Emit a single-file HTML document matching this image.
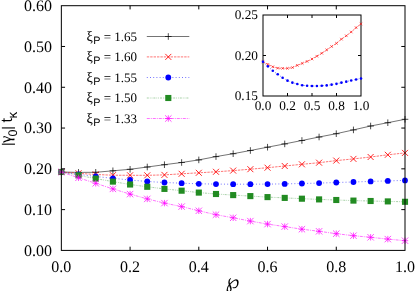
<!DOCTYPE html>
<html><head><meta charset="utf-8"><title>plot</title>
<style>html,body{margin:0;padding:0;background:#fff}svg{display:block}</style></head>
<body><svg width="415" height="291" viewBox="0 0 415 291" text-rendering="geometricPrecision">
<rect width="415" height="291" fill="#fff"/>
<path d="M61.35 172 L78.53 172.4 L95.72 172.3 L112.9 170.8 L130.08 169.3 L147.26 167 L164.45 164.7 L181.63 162.5 L198.81 159.9 L215.99 156.6 L233.17 153.7 L250.36 150.5 L267.54 147.2 L284.72 143.9 L301.91 140.5 L319.09 137 L336.27 133.7 L353.45 129.9 L370.63 126 L387.82 122.7 L405 119.3" fill="none" stroke="#000000" stroke-width="0.55"/>
<path d="M58.05 172H64.65M61.35 168.7V175.3" stroke="#000000" stroke-width="0.7" fill="none"/>
<path d="M75.23 172.4H81.83M78.53 169.1V175.7" stroke="#000000" stroke-width="0.7" fill="none"/>
<path d="M92.42 172.3H99.02M95.72 169V175.6" stroke="#000000" stroke-width="0.7" fill="none"/>
<path d="M109.6 170.8H116.2M112.9 167.5V174.1" stroke="#000000" stroke-width="0.7" fill="none"/>
<path d="M126.78 169.3H133.38M130.08 166V172.6" stroke="#000000" stroke-width="0.7" fill="none"/>
<path d="M143.96 167H150.56M147.26 163.7V170.3" stroke="#000000" stroke-width="0.7" fill="none"/>
<path d="M161.15 164.7H167.75M164.45 161.4V168" stroke="#000000" stroke-width="0.7" fill="none"/>
<path d="M178.33 162.5H184.93M181.63 159.2V165.8" stroke="#000000" stroke-width="0.7" fill="none"/>
<path d="M195.51 159.9H202.11M198.81 156.6V163.2" stroke="#000000" stroke-width="0.7" fill="none"/>
<path d="M212.69 156.6H219.29M215.99 153.3V159.9" stroke="#000000" stroke-width="0.7" fill="none"/>
<path d="M229.87 153.7H236.47M233.17 150.4V157" stroke="#000000" stroke-width="0.7" fill="none"/>
<path d="M247.06 150.5H253.66M250.36 147.2V153.8" stroke="#000000" stroke-width="0.7" fill="none"/>
<path d="M264.24 147.2H270.84M267.54 143.9V150.5" stroke="#000000" stroke-width="0.7" fill="none"/>
<path d="M281.42 143.9H288.02M284.72 140.6V147.2" stroke="#000000" stroke-width="0.7" fill="none"/>
<path d="M298.61 140.5H305.21M301.91 137.2V143.8" stroke="#000000" stroke-width="0.7" fill="none"/>
<path d="M315.79 137H322.39M319.09 133.7V140.3" stroke="#000000" stroke-width="0.7" fill="none"/>
<path d="M332.97 133.7H339.57M336.27 130.4V137" stroke="#000000" stroke-width="0.7" fill="none"/>
<path d="M350.15 129.9H356.75M353.45 126.6V133.2" stroke="#000000" stroke-width="0.7" fill="none"/>
<path d="M367.33 126H373.94M370.63 122.7V129.3" stroke="#000000" stroke-width="0.7" fill="none"/>
<path d="M384.52 122.7H391.12M387.82 119.4V126" stroke="#000000" stroke-width="0.7" fill="none"/>
<path d="M401.7 119.3H408.3M405 116V122.6" stroke="#000000" stroke-width="0.7" fill="none"/>
<path d="M61.35 172 L78.53 173.3 L95.72 174.5 L112.9 175.2 L130.08 175.3 L147.26 175.3 L164.45 174.9 L181.63 173.8 L198.81 172.8 L215.99 171.8 L233.17 170.6 L250.36 169.2 L267.54 167.7 L284.72 166 L301.91 164.3 L319.09 162.7 L336.27 160.6 L353.45 158.9 L370.63 157 L387.82 154.8 L405 152.9" fill="none" stroke="#ff0000" stroke-width="0.55" stroke-dasharray="2.4 1"/>
<path d="M58.35 169L64.35 175M58.35 175L64.35 169" stroke="#ff0000" stroke-width="0.85" fill="none"/>
<path d="M75.53 170.3L81.53 176.3M75.53 176.3L81.53 170.3" stroke="#ff0000" stroke-width="0.85" fill="none"/>
<path d="M92.72 171.5L98.72 177.5M92.72 177.5L98.72 171.5" stroke="#ff0000" stroke-width="0.85" fill="none"/>
<path d="M109.9 172.2L115.9 178.2M109.9 178.2L115.9 172.2" stroke="#ff0000" stroke-width="0.85" fill="none"/>
<path d="M127.08 172.3L133.08 178.3M127.08 178.3L133.08 172.3" stroke="#ff0000" stroke-width="0.85" fill="none"/>
<path d="M144.26 172.3L150.26 178.3M144.26 178.3L150.26 172.3" stroke="#ff0000" stroke-width="0.85" fill="none"/>
<path d="M161.45 171.9L167.45 177.9M161.45 177.9L167.45 171.9" stroke="#ff0000" stroke-width="0.85" fill="none"/>
<path d="M178.63 170.8L184.63 176.8M178.63 176.8L184.63 170.8" stroke="#ff0000" stroke-width="0.85" fill="none"/>
<path d="M195.81 169.8L201.81 175.8M195.81 175.8L201.81 169.8" stroke="#ff0000" stroke-width="0.85" fill="none"/>
<path d="M212.99 168.8L218.99 174.8M212.99 174.8L218.99 168.8" stroke="#ff0000" stroke-width="0.85" fill="none"/>
<path d="M230.17 167.6L236.17 173.6M230.17 173.6L236.17 167.6" stroke="#ff0000" stroke-width="0.85" fill="none"/>
<path d="M247.36 166.2L253.36 172.2M247.36 172.2L253.36 166.2" stroke="#ff0000" stroke-width="0.85" fill="none"/>
<path d="M264.54 164.7L270.54 170.7M264.54 170.7L270.54 164.7" stroke="#ff0000" stroke-width="0.85" fill="none"/>
<path d="M281.72 163L287.72 169M281.72 169L287.72 163" stroke="#ff0000" stroke-width="0.85" fill="none"/>
<path d="M298.91 161.3L304.91 167.3M298.91 167.3L304.91 161.3" stroke="#ff0000" stroke-width="0.85" fill="none"/>
<path d="M316.09 159.7L322.09 165.7M316.09 165.7L322.09 159.7" stroke="#ff0000" stroke-width="0.85" fill="none"/>
<path d="M333.27 157.6L339.27 163.6M333.27 163.6L339.27 157.6" stroke="#ff0000" stroke-width="0.85" fill="none"/>
<path d="M350.45 155.9L356.45 161.9M350.45 161.9L356.45 155.9" stroke="#ff0000" stroke-width="0.85" fill="none"/>
<path d="M367.63 154L373.63 160M367.63 160L373.63 154" stroke="#ff0000" stroke-width="0.85" fill="none"/>
<path d="M384.82 151.8L390.82 157.8M384.82 157.8L390.82 151.8" stroke="#ff0000" stroke-width="0.85" fill="none"/>
<path d="M402 149.9L408 155.9M402 155.9L408 149.9" stroke="#ff0000" stroke-width="0.85" fill="none"/>
<path d="M61.35 172 L78.53 174.3 L95.72 176.5 L112.9 178.3 L130.08 180 L147.26 181.5 L164.45 182.5 L181.63 183.2 L198.81 183.8 L215.99 184.1 L233.17 184.2 L250.36 184.2 L267.54 184.1 L284.72 183.9 L301.91 183.5 L319.09 183.1 L336.27 182.5 L353.45 182 L370.63 181.4 L387.82 180.9 L405 180.4" fill="none" stroke="#0000ff" stroke-width="0.55" stroke-dasharray="1 2.2"/>
<circle cx="61.35" cy="172" r="2.9" fill="#0000ff"/>
<circle cx="78.53" cy="174.3" r="2.9" fill="#0000ff"/>
<circle cx="95.72" cy="176.5" r="2.9" fill="#0000ff"/>
<circle cx="112.9" cy="178.3" r="2.9" fill="#0000ff"/>
<circle cx="130.08" cy="180" r="2.9" fill="#0000ff"/>
<circle cx="147.26" cy="181.5" r="2.9" fill="#0000ff"/>
<circle cx="164.45" cy="182.5" r="2.9" fill="#0000ff"/>
<circle cx="181.63" cy="183.2" r="2.9" fill="#0000ff"/>
<circle cx="198.81" cy="183.8" r="2.9" fill="#0000ff"/>
<circle cx="215.99" cy="184.1" r="2.9" fill="#0000ff"/>
<circle cx="233.17" cy="184.2" r="2.9" fill="#0000ff"/>
<circle cx="250.36" cy="184.2" r="2.9" fill="#0000ff"/>
<circle cx="267.54" cy="184.1" r="2.9" fill="#0000ff"/>
<circle cx="284.72" cy="183.9" r="2.9" fill="#0000ff"/>
<circle cx="301.91" cy="183.5" r="2.9" fill="#0000ff"/>
<circle cx="319.09" cy="183.1" r="2.9" fill="#0000ff"/>
<circle cx="336.27" cy="182.5" r="2.9" fill="#0000ff"/>
<circle cx="353.45" cy="182" r="2.9" fill="#0000ff"/>
<circle cx="370.63" cy="181.4" r="2.9" fill="#0000ff"/>
<circle cx="387.82" cy="180.9" r="2.9" fill="#0000ff"/>
<circle cx="405" cy="180.4" r="2.9" fill="#0000ff"/>
<path d="M61.35 172 L78.53 175.3 L95.72 178.6 L112.9 181.6 L130.08 184.5 L147.26 186.8 L164.45 188.9 L181.63 190.7 L198.81 192.6 L215.99 194 L233.17 195.1 L250.36 196.1 L267.54 197.1 L284.72 197.9 L301.91 198.7 L319.09 199.4 L336.27 200 L353.45 200.6 L370.63 201 L387.82 201.4 L405 201.8" fill="none" stroke="#228b22" stroke-width="0.4" stroke-dasharray="2 1 0.8 1 0.8 1"/>
<rect x="58.3" y="168.95" width="6.1" height="6.1" fill="#228b22"/>
<rect x="75.48" y="172.25" width="6.1" height="6.1" fill="#228b22"/>
<rect x="92.67" y="175.55" width="6.1" height="6.1" fill="#228b22"/>
<rect x="109.85" y="178.55" width="6.1" height="6.1" fill="#228b22"/>
<rect x="127.03" y="181.45" width="6.1" height="6.1" fill="#228b22"/>
<rect x="144.21" y="183.75" width="6.1" height="6.1" fill="#228b22"/>
<rect x="161.4" y="185.85" width="6.1" height="6.1" fill="#228b22"/>
<rect x="178.58" y="187.65" width="6.1" height="6.1" fill="#228b22"/>
<rect x="195.76" y="189.55" width="6.1" height="6.1" fill="#228b22"/>
<rect x="212.94" y="190.95" width="6.1" height="6.1" fill="#228b22"/>
<rect x="230.12" y="192.05" width="6.1" height="6.1" fill="#228b22"/>
<rect x="247.31" y="193.05" width="6.1" height="6.1" fill="#228b22"/>
<rect x="264.49" y="194.05" width="6.1" height="6.1" fill="#228b22"/>
<rect x="281.67" y="194.85" width="6.1" height="6.1" fill="#228b22"/>
<rect x="298.86" y="195.65" width="6.1" height="6.1" fill="#228b22"/>
<rect x="316.04" y="196.35" width="6.1" height="6.1" fill="#228b22"/>
<rect x="333.22" y="196.95" width="6.1" height="6.1" fill="#228b22"/>
<rect x="350.4" y="197.55" width="6.1" height="6.1" fill="#228b22"/>
<rect x="367.58" y="197.95" width="6.1" height="6.1" fill="#228b22"/>
<rect x="384.77" y="198.35" width="6.1" height="6.1" fill="#228b22"/>
<rect x="401.95" y="198.75" width="6.1" height="6.1" fill="#228b22"/>
<path d="M61.35 172 L78.53 177.8 L95.72 183.3 L112.9 188.9 L130.08 194.1 L147.26 198.9 L164.45 203.1 L181.63 206.6 L198.81 210.8 L215.99 214.7 L233.17 217.8 L250.36 221.1 L267.54 224.1 L284.72 226.6 L301.91 229.2 L319.09 231.3 L336.27 233.7 L353.45 235.7 L370.63 237.3 L387.82 239.1 L405 240.7" fill="none" stroke="#ff00ff" stroke-width="0.55" stroke-dasharray="3 1 1 1"/>
<path d="M58.15 172H64.55M61.35 168.8V175.2" stroke="#ff00ff" stroke-width="0.7" fill="none"/><path d="M58.15 168.8L64.55 175.2M58.15 175.2L64.55 168.8" stroke="#ff00ff" stroke-width="0.7" fill="none"/>
<path d="M75.33 177.8H81.73M78.53 174.6V181" stroke="#ff00ff" stroke-width="0.7" fill="none"/><path d="M75.33 174.6L81.73 181M75.33 181L81.73 174.6" stroke="#ff00ff" stroke-width="0.7" fill="none"/>
<path d="M92.52 183.3H98.92M95.72 180.1V186.5" stroke="#ff00ff" stroke-width="0.7" fill="none"/><path d="M92.52 180.1L98.92 186.5M92.52 186.5L98.92 180.1" stroke="#ff00ff" stroke-width="0.7" fill="none"/>
<path d="M109.7 188.9H116.1M112.9 185.7V192.1" stroke="#ff00ff" stroke-width="0.7" fill="none"/><path d="M109.7 185.7L116.1 192.1M109.7 192.1L116.1 185.7" stroke="#ff00ff" stroke-width="0.7" fill="none"/>
<path d="M126.88 194.1H133.28M130.08 190.9V197.3" stroke="#ff00ff" stroke-width="0.7" fill="none"/><path d="M126.88 190.9L133.28 197.3M126.88 197.3L133.28 190.9" stroke="#ff00ff" stroke-width="0.7" fill="none"/>
<path d="M144.06 198.9H150.46M147.26 195.7V202.1" stroke="#ff00ff" stroke-width="0.7" fill="none"/><path d="M144.06 195.7L150.46 202.1M144.06 202.1L150.46 195.7" stroke="#ff00ff" stroke-width="0.7" fill="none"/>
<path d="M161.25 203.1H167.65M164.45 199.9V206.3" stroke="#ff00ff" stroke-width="0.7" fill="none"/><path d="M161.25 199.9L167.65 206.3M161.25 206.3L167.65 199.9" stroke="#ff00ff" stroke-width="0.7" fill="none"/>
<path d="M178.43 206.6H184.83M181.63 203.4V209.8" stroke="#ff00ff" stroke-width="0.7" fill="none"/><path d="M178.43 203.4L184.83 209.8M178.43 209.8L184.83 203.4" stroke="#ff00ff" stroke-width="0.7" fill="none"/>
<path d="M195.61 210.8H202.01M198.81 207.6V214" stroke="#ff00ff" stroke-width="0.7" fill="none"/><path d="M195.61 207.6L202.01 214M195.61 214L202.01 207.6" stroke="#ff00ff" stroke-width="0.7" fill="none"/>
<path d="M212.79 214.7H219.19M215.99 211.5V217.9" stroke="#ff00ff" stroke-width="0.7" fill="none"/><path d="M212.79 211.5L219.19 217.9M212.79 217.9L219.19 211.5" stroke="#ff00ff" stroke-width="0.7" fill="none"/>
<path d="M229.97 217.8H236.37M233.17 214.6V221" stroke="#ff00ff" stroke-width="0.7" fill="none"/><path d="M229.97 214.6L236.37 221M229.97 221L236.37 214.6" stroke="#ff00ff" stroke-width="0.7" fill="none"/>
<path d="M247.16 221.1H253.56M250.36 217.9V224.3" stroke="#ff00ff" stroke-width="0.7" fill="none"/><path d="M247.16 217.9L253.56 224.3M247.16 224.3L253.56 217.9" stroke="#ff00ff" stroke-width="0.7" fill="none"/>
<path d="M264.34 224.1H270.74M267.54 220.9V227.3" stroke="#ff00ff" stroke-width="0.7" fill="none"/><path d="M264.34 220.9L270.74 227.3M264.34 227.3L270.74 220.9" stroke="#ff00ff" stroke-width="0.7" fill="none"/>
<path d="M281.52 226.6H287.92M284.72 223.4V229.8" stroke="#ff00ff" stroke-width="0.7" fill="none"/><path d="M281.52 223.4L287.92 229.8M281.52 229.8L287.92 223.4" stroke="#ff00ff" stroke-width="0.7" fill="none"/>
<path d="M298.71 229.2H305.11M301.91 226V232.4" stroke="#ff00ff" stroke-width="0.7" fill="none"/><path d="M298.71 226L305.11 232.4M298.71 232.4L305.11 226" stroke="#ff00ff" stroke-width="0.7" fill="none"/>
<path d="M315.89 231.3H322.29M319.09 228.1V234.5" stroke="#ff00ff" stroke-width="0.7" fill="none"/><path d="M315.89 228.1L322.29 234.5M315.89 234.5L322.29 228.1" stroke="#ff00ff" stroke-width="0.7" fill="none"/>
<path d="M333.07 233.7H339.47M336.27 230.5V236.9" stroke="#ff00ff" stroke-width="0.7" fill="none"/><path d="M333.07 230.5L339.47 236.9M333.07 236.9L339.47 230.5" stroke="#ff00ff" stroke-width="0.7" fill="none"/>
<path d="M350.25 235.7H356.65M353.45 232.5V238.9" stroke="#ff00ff" stroke-width="0.7" fill="none"/><path d="M350.25 232.5L356.65 238.9M350.25 238.9L356.65 232.5" stroke="#ff00ff" stroke-width="0.7" fill="none"/>
<path d="M367.44 237.3H373.83M370.63 234.1V240.5" stroke="#ff00ff" stroke-width="0.7" fill="none"/><path d="M367.44 234.1L373.83 240.5M367.44 240.5L373.83 234.1" stroke="#ff00ff" stroke-width="0.7" fill="none"/>
<path d="M384.62 239.1H391.02M387.82 235.9V242.3" stroke="#ff00ff" stroke-width="0.7" fill="none"/><path d="M384.62 235.9L391.02 242.3M384.62 242.3L391.02 235.9" stroke="#ff00ff" stroke-width="0.7" fill="none"/>
<path d="M401.8 240.7H408.2M405 237.5V243.9" stroke="#ff00ff" stroke-width="0.7" fill="none"/><path d="M401.8 237.5L408.2 243.9M401.8 243.9L408.2 237.5" stroke="#ff00ff" stroke-width="0.7" fill="none"/>
<g id="axes" stroke="#000" stroke-width="1" fill="none">
<rect x="61.35" y="5.7" width="343.65" height="244.70000000000002"/>
<path d="M61.35 209.62h3.7 M405.0 209.62h-3.7 M61.35 168.83h3.7 M405.0 168.83h-3.7 M61.35 128.05h3.7 M405.0 128.05h-3.7 M61.35 87.27h3.7 M405.0 87.27h-3.7 M61.35 46.48h3.7 M405.0 46.48h-3.7 M130.08 250.4v-3.7 M130.08 5.7v3.7 M198.81 250.4v-3.7 M198.81 5.7v3.7 M267.54 250.4v-3.7 M267.54 5.7v3.7 M336.27 250.4v-3.7 M336.27 5.7v3.7 "/>
</g>
<path d="M146.8 36.5 L189.3 36.5" fill="none" stroke="#000000" stroke-width="0.55"/>
<path d="M165 36.5H171.6M168.3 33.2V39.8" stroke="#000000" stroke-width="0.7" fill="none"/>
<path d="M146.8 56.9 L189.3 56.9" fill="none" stroke="#ff0000" stroke-width="0.55" stroke-dasharray="2.4 1"/>
<path d="M165.3 53.9L171.3 59.9M165.3 59.9L171.3 53.9" stroke="#ff0000" stroke-width="0.85" fill="none"/>
<path d="M146.8 77.5 L189.3 77.5" fill="none" stroke="#0000ff" stroke-width="0.55" stroke-dasharray="1 2.2"/>
<circle cx="168.3" cy="77.5" r="2.9" fill="#0000ff"/>
<path d="M146.8 98 L189.3 98" fill="none" stroke="#228b22" stroke-width="0.4" stroke-dasharray="2 1 0.8 1 0.8 1"/>
<rect x="165.25" y="94.95" width="6.1" height="6.1" fill="#228b22"/>
<path d="M146.8 118.5 L189.3 118.5" fill="none" stroke="#ff00ff" stroke-width="0.55" stroke-dasharray="3 1 1 1"/>
<path d="M165.1 118.5H171.5M168.3 115.3V121.7" stroke="#ff00ff" stroke-width="0.7" fill="none"/><path d="M165.1 115.3L171.5 121.7M165.1 121.7L171.5 115.3" stroke="#ff00ff" stroke-width="0.7" fill="none"/>
<g stroke="#000" stroke-width="1" fill="none">
<rect x="263.0" y="15.0" width="98.0" height="81.0"/>
<path d="M263.0 55.5h3 M361.0 55.5h-3 M287.5 96.0v-3 M287.5 15.0v3 M312 96.0v-3 M312 15.0v3 M336.5 96.0v-3 M336.5 15.0v3 "/>
</g>
<path d="M263 61.79 L267.9 64.37 L272.8 66.75 L277.7 68.14 L282.6 68.34 L287.5 68.34 L292.4 67.55 L297.3 65.36 L302.2 63.38 L307.1 61.39 L312 59.01 L316.9 56.23 L321.8 53.25 L326.7 49.87 L331.6 46.5 L336.5 43.32 L341.4 39.15 L346.3 35.77 L351.2 32 L356.1 27.63 L361 23.85" fill="none" stroke="#ff0000" stroke-width="0.55" stroke-dasharray="2.4 1"/>
<path d="M261.7 60.49L264.3 63.09M261.7 63.09L264.3 60.49" stroke="#ff0000" stroke-width="0.6" fill="none"/>
<path d="M266.6 63.07L269.2 65.67M266.6 65.67L269.2 63.07" stroke="#ff0000" stroke-width="0.6" fill="none"/>
<path d="M271.5 65.45L274.1 68.05M271.5 68.05L274.1 65.45" stroke="#ff0000" stroke-width="0.6" fill="none"/>
<path d="M276.4 66.84L279 69.44M276.4 69.44L279 66.84" stroke="#ff0000" stroke-width="0.6" fill="none"/>
<path d="M281.3 67.04L283.9 69.64M281.3 69.64L283.9 67.04" stroke="#ff0000" stroke-width="0.6" fill="none"/>
<path d="M286.2 67.04L288.8 69.64M286.2 69.64L288.8 67.04" stroke="#ff0000" stroke-width="0.6" fill="none"/>
<path d="M291.1 66.25L293.7 68.85M291.1 68.85L293.7 66.25" stroke="#ff0000" stroke-width="0.6" fill="none"/>
<path d="M296 64.06L298.6 66.66M296 66.66L298.6 64.06" stroke="#ff0000" stroke-width="0.6" fill="none"/>
<path d="M300.9 62.08L303.5 64.68M300.9 64.68L303.5 62.08" stroke="#ff0000" stroke-width="0.6" fill="none"/>
<path d="M305.8 60.09L308.4 62.69M305.8 62.69L308.4 60.09" stroke="#ff0000" stroke-width="0.6" fill="none"/>
<path d="M310.7 57.71L313.3 60.31M310.7 60.31L313.3 57.71" stroke="#ff0000" stroke-width="0.6" fill="none"/>
<path d="M315.6 54.93L318.2 57.53M315.6 57.53L318.2 54.93" stroke="#ff0000" stroke-width="0.6" fill="none"/>
<path d="M320.5 51.95L323.1 54.55M320.5 54.55L323.1 51.95" stroke="#ff0000" stroke-width="0.6" fill="none"/>
<path d="M325.4 48.57L328 51.17M325.4 51.17L328 48.57" stroke="#ff0000" stroke-width="0.6" fill="none"/>
<path d="M330.3 45.2L332.9 47.8M330.3 47.8L332.9 45.2" stroke="#ff0000" stroke-width="0.6" fill="none"/>
<path d="M335.2 42.02L337.8 44.62M335.2 44.62L337.8 42.02" stroke="#ff0000" stroke-width="0.6" fill="none"/>
<path d="M340.1 37.85L342.7 40.45M340.1 40.45L342.7 37.85" stroke="#ff0000" stroke-width="0.6" fill="none"/>
<path d="M345 34.47L347.6 37.07M345 37.07L347.6 34.47" stroke="#ff0000" stroke-width="0.6" fill="none"/>
<path d="M349.9 30.7L352.5 33.3M349.9 33.3L352.5 30.7" stroke="#ff0000" stroke-width="0.6" fill="none"/>
<path d="M354.8 26.33L357.4 28.93M354.8 28.93L357.4 26.33" stroke="#ff0000" stroke-width="0.6" fill="none"/>
<path d="M359.7 22.55L362.3 25.15M359.7 25.15L362.3 22.55" stroke="#ff0000" stroke-width="0.6" fill="none"/>
<path d="M263 61.79 L267.9 66.36 L272.8 70.73 L277.7 74.3 L282.6 77.68 L287.5 80.66 L292.4 82.64 L297.3 84.03 L302.2 85.23 L307.1 85.82 L312 86.02 L316.9 86.02 L321.8 85.82 L326.7 85.42 L331.6 84.63 L336.5 83.84 L341.4 82.64 L346.3 81.65 L351.2 80.46 L356.1 79.47 L361 78.47" fill="none" stroke="#0000ff" stroke-width="0.55" stroke-dasharray="1 2.2"/>
<circle cx="263" cy="61.79" r="1.3" fill="#0000ff"/>
<circle cx="267.9" cy="66.36" r="1.3" fill="#0000ff"/>
<circle cx="272.8" cy="70.73" r="1.3" fill="#0000ff"/>
<circle cx="277.7" cy="74.3" r="1.3" fill="#0000ff"/>
<circle cx="282.6" cy="77.68" r="1.3" fill="#0000ff"/>
<circle cx="287.5" cy="80.66" r="1.3" fill="#0000ff"/>
<circle cx="292.4" cy="82.64" r="1.3" fill="#0000ff"/>
<circle cx="297.3" cy="84.03" r="1.3" fill="#0000ff"/>
<circle cx="302.2" cy="85.23" r="1.3" fill="#0000ff"/>
<circle cx="307.1" cy="85.82" r="1.3" fill="#0000ff"/>
<circle cx="312" cy="86.02" r="1.3" fill="#0000ff"/>
<circle cx="316.9" cy="86.02" r="1.3" fill="#0000ff"/>
<circle cx="321.8" cy="85.82" r="1.3" fill="#0000ff"/>
<circle cx="326.7" cy="85.42" r="1.3" fill="#0000ff"/>
<circle cx="331.6" cy="84.63" r="1.3" fill="#0000ff"/>
<circle cx="336.5" cy="83.84" r="1.3" fill="#0000ff"/>
<circle cx="341.4" cy="82.64" r="1.3" fill="#0000ff"/>
<circle cx="346.3" cy="81.65" r="1.3" fill="#0000ff"/>
<circle cx="351.2" cy="80.46" r="1.3" fill="#0000ff"/>
<circle cx="356.1" cy="79.47" r="1.3" fill="#0000ff"/>
<circle cx="361" cy="78.47" r="1.3" fill="#0000ff"/>
<g font-family="'Liberation Serif', serif" font-size="16" fill="#000">
<text x="52" y="255.7" text-anchor="end">0.00</text>
<text x="52" y="214.92" text-anchor="end">0.10</text>
<text x="52" y="174.13" text-anchor="end">0.20</text>
<text x="52" y="133.35" text-anchor="end">0.30</text>
<text x="52" y="92.57" text-anchor="end">0.40</text>
<text x="52" y="51.78" text-anchor="end">0.50</text>
<text x="52" y="11" text-anchor="end">0.60</text>
<text x="61.35" y="271.7" text-anchor="middle">0.0</text>
<text x="130.08" y="271.7" text-anchor="middle">0.2</text>
<text x="198.81" y="271.7" text-anchor="middle">0.4</text>
<text x="267.54" y="271.7" text-anchor="middle">0.6</text>
<text x="336.27" y="271.7" text-anchor="middle">0.8</text>
<text x="405" y="271.7" text-anchor="middle">1.0</text>
</g>
<g font-family="'Liberation Serif', serif" font-size="13.3" fill="#000">
<text x="258" y="100.2" text-anchor="end">0.15</text>
<text x="258" y="59.7" text-anchor="end">0.20</text>
<text x="258" y="19.2" text-anchor="end">0.25</text>
<text x="263" y="110.1" text-anchor="middle">0.0</text>
<text x="287.5" y="110.1" text-anchor="middle">0.2</text>
<text x="312" y="110.1" text-anchor="middle">0.5</text>
<text x="336.5" y="110.1" text-anchor="middle">0.8</text>
<text x="361" y="110.1" text-anchor="middle">1.0</text>
</g>
<text x="86.5" y="40.8" font-family="'Liberation Serif', serif" font-size="13" fill="#000"><tspan font-size="14.3">ξ</tspan><tspan font-family="'Liberation Sans', sans-serif" font-size="10.8" dx="0.4" dy="3.2">P</tspan><tspan dy="-3.2"> = 1.65</tspan></text>
<text x="86.5" y="61.2" font-family="'Liberation Serif', serif" font-size="13" fill="#000"><tspan font-size="14.3">ξ</tspan><tspan font-family="'Liberation Sans', sans-serif" font-size="10.8" dx="0.4" dy="3.2">P</tspan><tspan dy="-3.2"> = 1.60</tspan></text>
<text x="86.5" y="81.8" font-family="'Liberation Serif', serif" font-size="13" fill="#000"><tspan font-size="14.3">ξ</tspan><tspan font-family="'Liberation Sans', sans-serif" font-size="10.8" dx="0.4" dy="3.2">P</tspan><tspan dy="-3.2"> = 1.55</tspan></text>
<text x="86.5" y="102.3" font-family="'Liberation Serif', serif" font-size="13" fill="#000"><tspan font-size="14.3">ξ</tspan><tspan font-family="'Liberation Sans', sans-serif" font-size="10.8" dx="0.4" dy="3.2">P</tspan><tspan dy="-3.2"> = 1.50</tspan></text>
<text x="86.5" y="122.8" font-family="'Liberation Serif', serif" font-size="13" fill="#000"><tspan font-size="14.3">ξ</tspan><tspan font-family="'Liberation Sans', sans-serif" font-size="10.8" dx="0.4" dy="3.2">P</tspan><tspan dy="-3.2"> = 1.33</tspan></text>
<text transform="translate(11.7,150) rotate(-90)" font-family="'Liberation Sans', sans-serif" font-size="16" fill="#000"><tspan x="3.9" y="0.5" font-size="14">|</tspan><tspan x="7" y="-1" font-family="'Liberation Serif', serif" font-size="16.5">γ</tspan><tspan x="13.6" y="5" font-size="12.5">0</tspan><tspan x="20.2" y="0.5" font-size="14">| </tspan><tspan x="27.4" y="0">t</tspan><tspan x="31.6" y="5.2" font-size="13.5">κ</tspan></text>
<text x="232.6" y="287.5" text-anchor="middle" font-family="'DejaVu Serif', 'DejaVu Sans', serif" font-size="20" font-style="italic" fill="#000">℘</text>
</svg></body></html>
